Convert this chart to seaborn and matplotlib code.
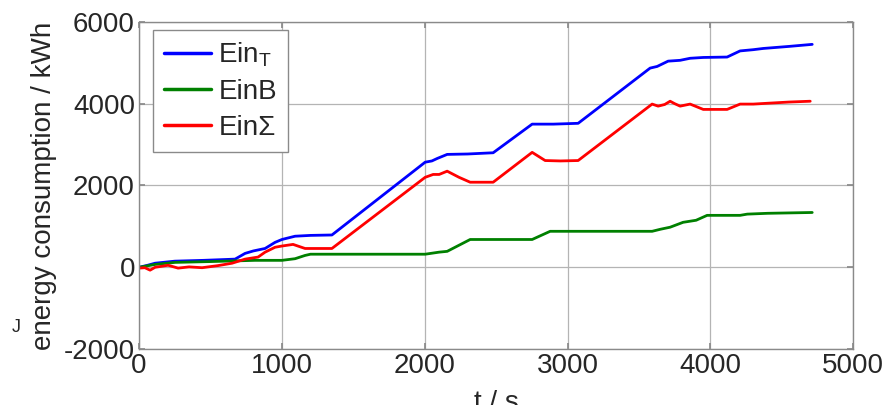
import numpy as np
import pandas as pd
import matplotlib
matplotlib.use("Agg")
import matplotlib.pyplot as plt
import seaborn as sns

# Werte (t in s, Energie in kWh)
t_total = [0, 60, 112, 250, 450, 600, 672, 742, 800, 882, 952, 1000, 1092, 1200,
           1350, 2003, 2050, 2087, 2157, 2300, 2479, 2752, 2900, 3074, 3578, 3627,
           3704, 3788, 3858, 3950, 4117, 4208, 4300, 4370, 4550, 4713]
e_total = [0, 50, 100, 150, 170, 190, 200, 340, 400, 460, 610, 680, 760, 780,
           790, 2570, 2600, 2660, 2760, 2770, 2800, 3500, 3500, 3520, 4870, 4910,
           5040, 5060, 5110, 5130, 5140, 5290, 5320, 5350, 5400, 5450]

t_b = [0, 112, 252, 500, 812, 1000, 1092, 1162, 1200, 1500, 2003, 2100, 2157,
       2318, 2570, 2752, 2878, 3200, 3592, 3650, 3718, 3809, 3900, 3977, 4208,
       4258, 4400, 4713]
e_b = [0, 70, 120, 140, 170, 170, 210, 290, 320, 320, 320, 370, 390,
       680, 680, 680, 880, 880, 880, 930, 980, 1100, 1150, 1270, 1270,
       1300, 1320, 1340]

t_sum = [0, 40, 77, 112, 203, 273, 350, 441, 550, 651, 742, 833, 882, 952, 1000,
         1078, 1162, 1250, 1350, 2003, 2059, 2101, 2157, 2240, 2318, 2400, 2479,
         2752, 2843, 2950, 3074, 3592, 3634, 3680, 3718, 3750, 3788, 3858, 3950,
         4117, 4208, 4300, 4398, 4550, 4699]
e_sum = [-20, -10, -70, 0, 50, -20, 10, -10, 40, 100, 200, 250, 370, 490, 520,
         560, 460, 460, 460, 2200, 2270, 2270, 2350, 2200, 2080, 2080, 2080,
         2810, 2610, 2600, 2610, 3990, 3940, 3980, 4060, 4000, 3940, 3990, 3860,
         3860, 3990, 3990, 4010, 4040, 4060]

serien = ["Ein$_\\mathrm{T}$", "EinB", "Ein\u03a3"]
farben = ["#0000ff", "#008000", "#ff0000"]

df = pd.concat([
    pd.DataFrame({"t": t_total, "E": e_total, "serie": serien[0]}),
    pd.DataFrame({"t": t_b, "E": e_b, "serie": serien[1]}),
    pd.DataFrame({"t": t_sum, "E": e_sum, "serie": serien[2]}),
], ignore_index=True)

sns.set_theme(style="white")
plt.rcParams["font.family"] = ["Liberation Sans", "DejaVu Sans"]
plt.rcParams["mathtext.fontset"] = "custom"
plt.rcParams["mathtext.rm"] = "Liberation Sans"
plt.rcParams["mathtext.it"] = "Liberation Sans:italic"
plt.rcParams["axes.unicode_minus"] = False

fig = plt.figure(figsize=(8.86, 4.05), dpi=100)
ax = fig.add_axes([0.157, 0.138, 0.806, 0.808])

sns.lineplot(data=df, x="t", y="E", hue="serie", hue_order=serien,
             palette=farben, estimator=None, sort=False, linewidth=2, ax=ax)

ax.set_xlim(0, 5000)
ax.set_ylim(-2000, 6000)
ax.set_xticks([0, 1000, 2000, 3000, 4000, 5000])
ax.set_yticks([-2000, 0, 2000, 4000, 6000])
ax.grid(True, color="#b4b4b4", linewidth=0.9)
for s in ax.spines.values():
    s.set_color("#8a8a8a")
    s.set_linewidth(1.0)
ax.tick_params(axis="both", labelsize=20, direction="in", length=4,
               color="#8a8a8a", top=True, right=True, left=True, bottom=True,
               pad=3)

ax.set_xlabel("t / s", fontsize=20)
ax.set_ylabel("energy consumption / kWh", fontsize=20)
ax.xaxis.set_label_coords(0.5, -0.125)
ax.yaxis.set_label_coords(-0.115, 0.5)

leg = ax.legend(loc="upper left", bbox_to_anchor=(0.0196, 0.9755),
                borderaxespad=0, fontsize=20, handlelength=1.7,
                handletextpad=0.25, labelspacing=0.35, borderpad=0.4,
                fancybox=False, framealpha=1, title=None)
leg.get_frame().set_edgecolor("#8a8a8a")
leg.get_frame().set_linewidth(1.0)
for line in leg.get_lines():
    line.set_linewidth(2.5)

fig.text(0.013, 1 - 328 / 405, "J", fontsize=13, va="center")

fig.savefig("out.png", dpi=100)
